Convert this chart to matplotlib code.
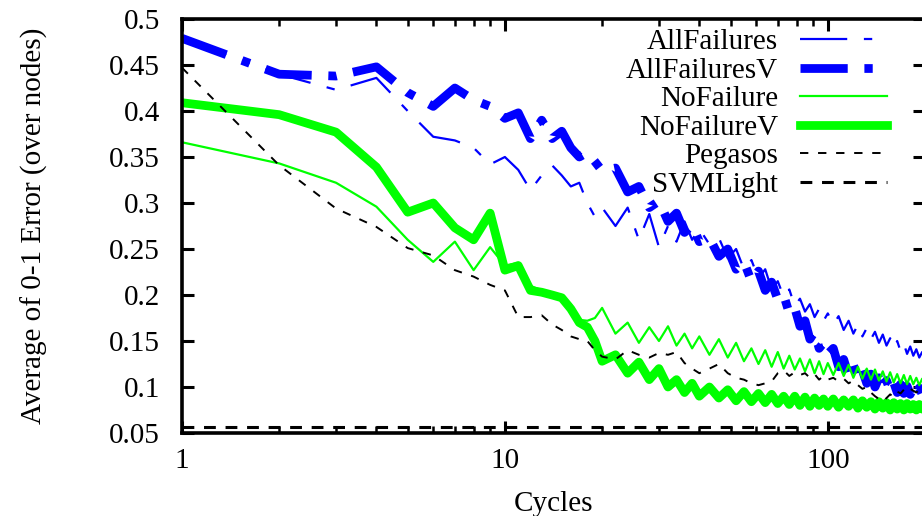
import matplotlib
matplotlib.use("Agg")
import matplotlib.pyplot as plt
from matplotlib.ticker import LogLocator, FixedLocator, NullFormatter, FixedFormatter

plt.rcParams['font.family'] = ['Liberation Serif', 'DejaVu Serif']
plt.rcParams['lines.scale_dashes'] = False

cycles = [1, 2, 3, 4, 5, 6, 7, 8, 9, 10, 11, 12, 13, 14, 15, 16, 17, 18, 19, 20,
          22, 24, 26, 28, 30, 32, 34, 36, 38, 40,
          43, 46, 49, 52, 55, 58, 61, 64, 67, 70, 73, 76, 79, 82, 85, 88, 91, 94, 97, 100,
          104, 108, 112, 116, 120, 124, 128, 132, 136, 140, 144, 148, 152, 156, 160,
          164, 168, 172, 176, 180, 184, 188, 192, 196, 200]

all_failures = [0.479, 0.44, 0.423, 0.436, 0.40, 0.372, 0.368, 0.36, 0.342, 0.35,
                0.336, 0.314, 0.33, 0.341, 0.33, 0.318, 0.322, 0.30, 0.285, 0.295,
                0.275, 0.295, 0.26, 0.288, 0.252, 0.275, 0.258, 0.28, 0.26, 0.272,
                0.255, 0.262, 0.24, 0.25, 0.228, 0.238, 0.218, 0.228, 0.206, 0.215,
                0.198, 0.206, 0.188, 0.196, 0.182, 0.19, 0.176, 0.185, 0.172, 0.18,
                0.168, 0.177, 0.162, 0.172, 0.158, 0.168, 0.155, 0.164, 0.152, 0.16,
                0.148, 0.157, 0.145, 0.153, 0.142, 0.15, 0.139, 0.147, 0.136, 0.144,
                0.134, 0.141, 0.132, 0.138, 0.13]

all_failures_v = [0.479, 0.44, 0.438, 0.448, 0.42, 0.405, 0.425, 0.412, 0.405, 0.392,
                  0.398, 0.37, 0.39, 0.37, 0.378, 0.36, 0.35, 0.355, 0.345, 0.335,
                  0.338, 0.312, 0.318, 0.295, 0.302, 0.28, 0.289, 0.268, 0.276, 0.258,
                  0.262, 0.242, 0.25, 0.228, 0.236, 0.215, 0.226, 0.205, 0.214, 0.195,
                  0.20, 0.18, 0.186, 0.166, 0.172, 0.152, 0.16, 0.142, 0.148, 0.136,
                  0.142, 0.122, 0.13, 0.112, 0.124, 0.108, 0.118, 0.104, 0.114, 0.10,
                  0.11, 0.098, 0.107, 0.096, 0.105, 0.094, 0.103, 0.093, 0.101, 0.092,
                  0.10, 0.093, 0.099, 0.092, 0.097]

no_failure = [0.366, 0.343, 0.322, 0.296, 0.26, 0.236, 0.258, 0.227, 0.252, 0.232,
              0.235, 0.21, 0.205, 0.202, 0.20, 0.19, 0.173, 0.172, 0.175, 0.186,
              0.158, 0.17, 0.148, 0.165, 0.15, 0.166, 0.145, 0.158, 0.142, 0.155,
              0.135, 0.152, 0.132, 0.148, 0.128, 0.142, 0.125, 0.14, 0.122, 0.138,
              0.12, 0.134, 0.119, 0.131, 0.117, 0.13, 0.115, 0.128, 0.114, 0.126,
              0.113, 0.126, 0.112, 0.124, 0.11, 0.122, 0.109, 0.12, 0.108, 0.119,
              0.107, 0.117, 0.106, 0.116, 0.105, 0.114, 0.104, 0.113, 0.103, 0.112,
              0.103, 0.11, 0.102, 0.109, 0.104]

no_failure_v = [0.409, 0.396, 0.377, 0.339, 0.29, 0.30, 0.273, 0.26, 0.289, 0.227,
                0.232, 0.205, 0.203, 0.20, 0.197, 0.185, 0.17, 0.165, 0.15, 0.128,
                0.135, 0.115, 0.127, 0.108, 0.12, 0.10, 0.108, 0.094, 0.104, 0.09,
                0.10, 0.088, 0.097, 0.085, 0.095, 0.084, 0.093, 0.083, 0.092, 0.082,
                0.09, 0.081, 0.09, 0.08, 0.089, 0.079, 0.088, 0.08, 0.087, 0.079,
                0.087, 0.078, 0.086, 0.079, 0.086, 0.077, 0.085, 0.078, 0.084, 0.076,
                0.084, 0.077, 0.083, 0.075, 0.083, 0.076, 0.082, 0.075, 0.082, 0.076,
                0.081, 0.075, 0.081, 0.076, 0.08]

pegasos = [0.447, 0.341, 0.294, 0.274, 0.251, 0.243, 0.227, 0.22, 0.211, 0.205,
           0.176, 0.176, 0.178, 0.168, 0.162, 0.155, 0.152, 0.15, 0.14, 0.133,
           0.13, 0.14, 0.135, 0.132, 0.137, 0.135, 0.138, 0.126, 0.12, 0.115,
           0.12, 0.125, 0.115, 0.11, 0.108, 0.104, 0.102, 0.104, 0.106, 0.115,
           0.118, 0.112, 0.116, 0.113, 0.115, 0.11, 0.114, 0.108, 0.112, 0.108,
           0.11, 0.106, 0.109, 0.104, 0.107, 0.102, 0.098, 0.10, 0.094, 0.09,
           0.087, 0.084, 0.088, 0.092, 0.089, 0.095, 0.093, 0.097, 0.094, 0.098,
           0.096, 0.094, 0.097, 0.095, 0.096]

svmlight = [0.056] * len(cycles)

series_labels = ['AllFailures', 'AllFailuresV', 'NoFailure', 'NoFailureV', 'Pegasos', 'SVMLight']
x_ticks = [1, 10, 100]
x_tick_labels = ['1', '10', '100']
y_ticks = [0.05, 0.1, 0.15, 0.2, 0.25, 0.3, 0.35, 0.4, 0.45, 0.5]
y_tick_labels = ['0.05', '0.1', '0.15', '0.2', '0.25', '0.3', '0.35', '0.4', '0.45', '0.5']

FS = 21
fig = plt.figure(figsize=(9.22, 5.16), dpi=100)
ax = fig.add_axes([182 / 922, 83 / 516, 743 / 922, 414 / 516])

blue = '#0000ff'
green = '#00ff00'
dashdot = (0, (34, 12, 6, 12))
ax.plot(cycles, all_failures, color=blue, lw=1.6, linestyle=dashdot, label=series_labels[0])
ax.plot(cycles, all_failures_v, color=blue, lw=6.3, linestyle=dashdot, label=series_labels[1],
        solid_joinstyle='miter', dash_capstyle='butt')
ax.plot(cycles, no_failure, color=green, lw=1.6, label=series_labels[2])
ax.plot(cycles, no_failure_v, color=green, lw=6.3, label=series_labels[3])
ax.plot(cycles, pegasos, color='black', lw=1.4, linestyle=(0, (6, 7)), label=series_labels[4])
ax.plot(cycles, svmlight, color='black', lw=2.2, linestyle=(0, (8.5, 7)), label=series_labels[5])

ax.set_xscale('log')
ax.set_xlim(1, 200)
ax.set_ylim(0.05, 0.5)
ax.xaxis.set_major_locator(FixedLocator(x_ticks))
ax.xaxis.set_major_formatter(FixedFormatter(x_tick_labels))
ax.xaxis.set_minor_locator(LogLocator(base=10, subs=range(2, 10)))
ax.xaxis.set_minor_formatter(NullFormatter())
ax.yaxis.set_major_locator(FixedLocator(y_ticks))
ax.yaxis.set_major_formatter(FixedFormatter(y_tick_labels))

for s in ax.spines.values():
    s.set_linewidth(2.6)
ax.tick_params(which='major', direction='in', length=8.5, width=2.2, top=True, right=True,
               labelsize=FS, pad=11)
ax.tick_params(which='minor', direction='in', length=5, width=1.8, top=True, right=True)
ax.tick_params(axis='y', pad=16)

ax.set_xlabel('Cycles', fontsize=FS, labelpad=12)
ax.set_ylabel('Average of 0-1 Error (over nodes)', fontsize=FS, labelpad=44)

leg = ax.legend(loc='upper right', bbox_to_anchor=(887 / 922, 1 - 29 / 516),
                bbox_transform=fig.transFigure, frameon=False, markerfirst=False,
                fontsize=FS, handlelength=2.98, handletextpad=0.75, labelspacing=0.07,
                borderpad=0, borderaxespad=0)

fig.savefig('out.png', dpi=100)
